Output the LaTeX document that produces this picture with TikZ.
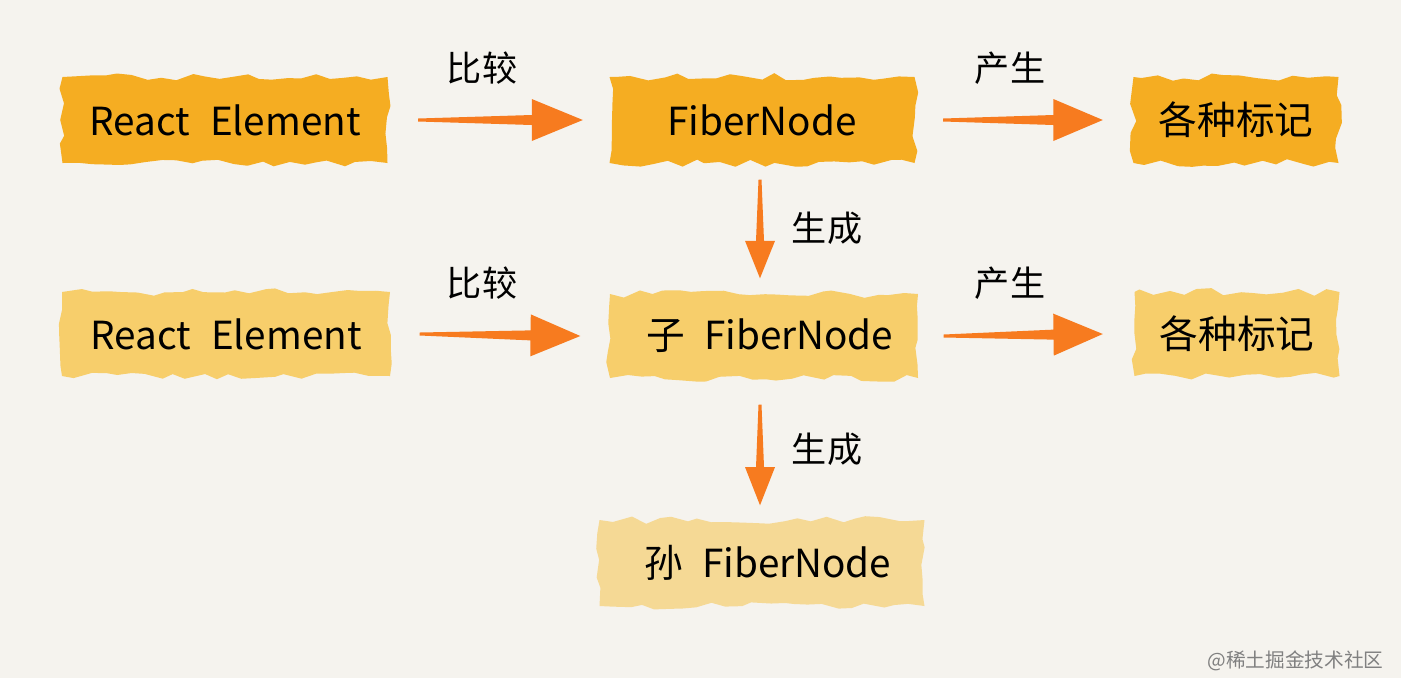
\documentclass[tikz,border=0pt]{standalone}
\usepackage{fontspec}
\usepackage{tikz}
\usetikzlibrary{calc,decorations.pathmorphing}
\newfontfamily\cjk{Noto Sans CJK SC}
\definecolor{bgpaper}{HTML}{F5F3EE}
\definecolor{brushdark}{HTML}{F5AD22}
\definecolor{brushmid}{HTML}{F7CE6B}
\definecolor{brushlight}{HTML}{F5D995}
\definecolor{arroworange}{HTML}{F77B1F}
\definecolor{markgray}{HTML}{808080}

\tikzset{
  brush/.style={inner sep=0pt, font=\cjk\fontsize{11}{13}\selectfont,
    decorate, decoration={random steps, segment length=4pt, amplitude=1.1pt}},
  lbl/.style={font=\cjk\fontsize{10}{12}\selectfont},
}

% tapered arrow: from, to, head position, shaft half width, head half width
\newcommand{\fatarrow}[5]{%
  \fill[arroworange] ($(#1)!0.015cm!90:(#2)$) -- ($(#1)!#3!(#2)!#4!90:(#2)$)
    -- ($(#1)!#3!(#2)!#5!90:(#2)$) -- (#2)
    -- ($(#1)!#3!(#2)!#5!-90:(#2)$) -- ($(#1)!#3!(#2)!#4!-90:(#2)$)
    -- ($(#1)!0.015cm!-90:(#2)$) -- cycle;}

\begin{document}
\begin{tikzpicture}
    \pgfmathsetseed{11}
    \useasboundingbox (0,0) rectangle (14.01,-6.78);
    \fill[bgpaper] (0,0) rectangle (14.01,-6.78);

    % first row
    \node[brush, fill=brushdark, minimum width=3.25cm, minimum height=0.86cm] (re1) at (2.25,-1.20) {React\hspace{0.3em} Element};
    \node[brush, fill=brushdark, minimum width=3.05cm, minimum height=0.86cm] (fn1) at (7.62,-1.20) {FiberNode};
    \node[brush, fill=brushdark, minimum width=2.05cm, minimum height=0.86cm] (mk1) at (12.36,-1.20) {各种标记};
    % second row
    \node[brush, fill=brushmid, minimum width=3.28cm, minimum height=0.84cm] (re2) at (2.26,-3.34) {React\hspace{0.3em} Element};
    \node[brush, fill=brushmid, minimum width=3.08cm, minimum height=0.84cm] (fn2) at (7.64,-3.36) {\hspace{0.3em}子\hspace{0.5em}FiberNode};
    \node[brush, fill=brushmid, minimum width=2.05cm, minimum height=0.84cm] (mk2) at (12.37,-3.34) {各种标记};
    % third row
    \node[brush, fill=brushlight, minimum width=3.25cm, minimum height=0.86cm] (fn3) at (7.62,-5.63) {\hspace{0.3em}孙\hspace{0.5em}FiberNode};

    % arrow ends
    \coordinate (a1s) at ($(re1.east)+(0.30,0)$);
    \coordinate (a1e) at ($(fn1.west)+(-0.26,0)$);
    \coordinate (a2s) at ($(fn1.east)+(0.28,0)$);
    \coordinate (a2e) at ($(mk1.west)+(-0.30,0)$);
    \coordinate (a3s) at ($(re2.east)+(0.29,0)$);
    \coordinate (a3e) at ($(fn2.west)+(-0.29,0)$);
    \coordinate (a4s) at ($(fn2.east)+(0.25,0)$);
    \coordinate (a4e) at ($(mk2.west)+(-0.31,0)$);
    \coordinate (v1s) at ($(fn1.south)+(-0.02,-0.16)$);
    \coordinate (v1e) at ($(fn2.north)+(-0.04,0.15)$);
    \coordinate (v2s) at ($(fn2.south)+(-0.04,-0.26)$);
    \coordinate (v2e) at ($(fn3.north)+(-0.02,0.14)$);

    \fatarrow{a1s}{a1e}{0.69}{0.05cm}{0.21cm}
    \fatarrow{a2s}{a2e}{0.69}{0.05cm}{0.21cm}
    \fatarrow{a3s}{a3e}{0.69}{0.05cm}{0.21cm}
    \fatarrow{a4s}{a4e}{0.69}{0.05cm}{0.21cm}
    \fatarrow{v1s}{v1e}{0.62}{0.04cm}{0.15cm}
    \fatarrow{v2s}{v2e}{0.62}{0.04cm}{0.15cm}

    % labels
    \node[lbl] (cmp1) at (4.82,-0.68) {比较};
    \node[lbl] (gen1) at (10.10,-0.68) {产生};
    \node[lbl] (cmp2) at (4.82,-2.83) {比较};
    \node[lbl] (gen2) at (10.10,-2.83) {产生};
    \node[lbl] (mk1l) at (8.27,-2.28) {生成};
    \node[lbl] (mk2l) at (8.27,-4.49) {生成};

    \node[font=\cjk\fontsize{5.6}{7}\selectfont, text=markgray, anchor=east] (wm) at (13.96,-6.61) {@稀土掘金技术社区};
\end{tikzpicture}
\end{document}
